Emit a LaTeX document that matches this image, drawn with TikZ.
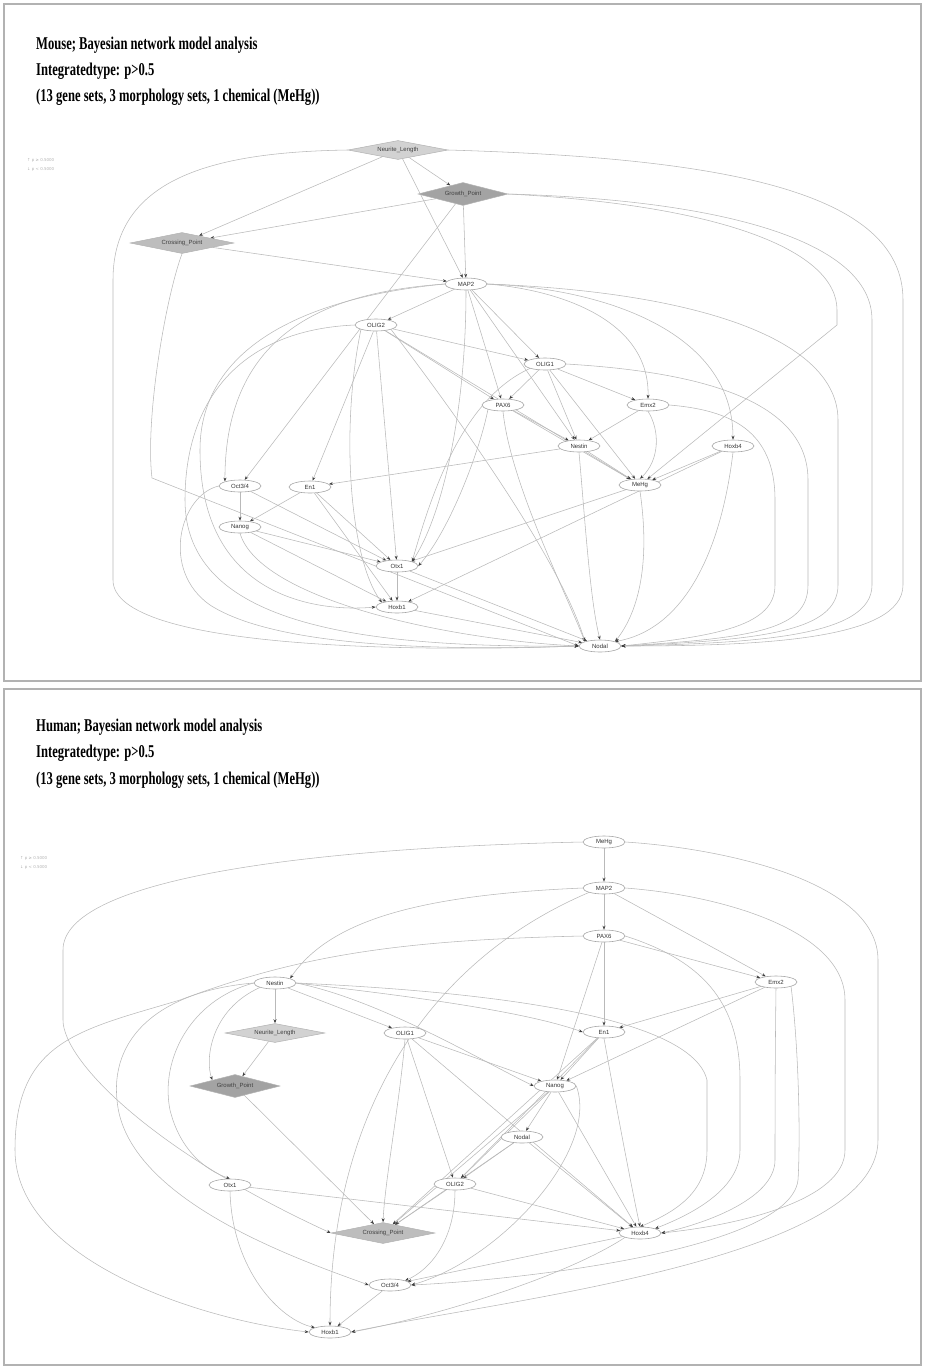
\documentclass[tikz,border=0pt]{standalone}
\usepackage{fontspec}
\setmainfont{Liberation Serif}
\newfontfamily\nodefont{Liberation Sans}
\newfontfamily\symfont{DejaVu Sans}
\usetikzlibrary{shapes.geometric,arrows.meta}
\pgfdeclarelayer{bg}
\pgfsetlayers{bg,main}
\tikzset{
  gn/.style={ellipse, draw=gray!70, fill=white, line width=0.6pt, inner sep=0.5pt,
    minimum width=42pt, minimum height=12pt, font=\nodefont\fontsize{6}{7}\selectfont, text=black!80},
  dia/.style={diamond, aspect=6, inner sep=0pt, draw=gray!60, line width=0.5pt, font=\nodefont\fontsize{6}{7}\selectfont, text=black!75},
  ld/.style={dia, fill=gray!35, minimum width=100pt, minimum height=19pt},
  dd/.style={dia, fill=gray!72, minimum width=90pt, minimum height=23pt},
  md/.style={dia, fill=gray!52, minimum width=104pt, minimum height=21pt},
  ed/.style={draw=gray!55, line width=0.55pt, -{Stealth[length=4pt,width=3pt,color=black!75]}},
  ttl/.style={anchor=west, inner sep=0pt, font=\fontsize{18}{21}\selectfont\bfseries},
  leg/.style={anchor=west, inner sep=0pt, text=gray!60, font=\symfont\fontsize{4}{5}\selectfont},
  frame/.style={draw=gray!60, line width=1.6pt}
}
\begin{document}
\begin{tikzpicture}[x=1pt,y=-1pt]
\useasboundingbox (0,0) rectangle (925,1366);
\draw[frame] (4,4) rectangle (921,681);
\draw[frame] (4,689) rectangle (921,1365);

% ---------- titles ----------
\node[ttl] (t1) at (36,45) {\scalebox{0.70}[1]{Mouse; Bayesian network model analysis}};
\node[ttl] (t2) at (36,71) {\scalebox{0.70}[1]{Integratedtype: p>0.5}};
\node[ttl] (t3) at (36,97) {\scalebox{0.70}[1]{(13 gene sets, 3 morphology sets, 1 chemical (MeHg))}};
\node[ttl] (h1) at (36,727) {\scalebox{0.70}[1]{Human; Bayesian network model analysis}};
\node[ttl] (h2) at (36,753) {\scalebox{0.70}[1]{Integratedtype: p>0.5}};
\node[ttl] (h3) at (36,780) {\scalebox{0.70}[1]{(13 gene sets, 3 morphology sets, 1 chemical (MeHg))}};
\node[leg] (tl1) at (27,160) {↑ p ≥ 0.5000};
\node[leg] (tl2) at (27,169) {↓ p < 0.5000};
\node[leg] (hl1) at (20,858) {↑ p ≥ 0.5000};
\node[leg] (hl2) at (20,867) {↓ p < 0.5000};

% ---------- top (mouse) nodes ----------
\node[ld] (tNL) at (398,150) {Neurite\_Length};
\node[dd] (tGP) at (463,194) {Growth\_Point};
\node[md] (tCP) at (182,243) {Crossing\_Point};
\node[gn] (tMAP2) at (466,284) {MAP2};
\node[gn] (tOLIG2) at (376,325) {OLIG2};
\node[gn] (tOLIG1) at (545,364) {OLIG1};
\node[gn] (tPAX6) at (503,405) {PAX6};
\node[gn] (tEmx2) at (648,405) {Emx2};
\node[gn] (tNestin) at (579,446) {Nestin};
\node[gn] (tHoxb4) at (733,446) {Hoxb4};
\node[gn] (tOct) at (240,486) {Oct3/4};
\node[gn] (tEn1) at (310,487) {En1};
\node[gn] (tMeHg) at (640,485) {MeHg};
\node[gn] (tNanog) at (240,527) {Nanog};
\node[gn] (tOtx1) at (397,566) {Otx1};
\node[gn] (tHoxb1) at (397,607) {Hoxb1};
\node[gn] (tNodal) at (600,646) {Nodal};

% ---------- bottom (human) nodes ----------
\node[gn] (bMeHg) at (604,842) {MeHg};
\node[gn] (bMAP2) at (604,888) {MAP2};
\node[gn] (bPAX6) at (604,936) {PAX6};
\node[gn] (bEmx2) at (776,982) {Emx2};
\node[gn] (bNestin) at (275,983) {Nestin};
\node[ld] (bNL) at (275,1033) {Neurite\_Length};
\node[gn] (bOLIG1) at (405,1033) {OLIG1};
\node[gn] (bEn1) at (604,1032) {En1};
\node[dd] (bGP) at (235,1086) {Growth\_Point};
\node[gn] (bNanog) at (555,1086) {Nanog};
\node[gn] (bNodal) at (522,1137) {Nodal};
\node[gn] (bOtx1) at (230,1185) {Otx1};
\node[gn] (bOLIG2) at (455,1184) {OLIG2};
\node[md] (bCP) at (383,1233) {Crossing\_Point};
\node[gn] (bHoxb4) at (640,1233) {Hoxb4};
\node[gn] (bOct) at (390,1285) {Oct3/4};
\node[gn] (bHoxb1) at (330,1332) {Hoxb1};

\begin{pgfonlayer}{bg}
% ---------- top edges ----------
\draw[ed] (tNL) -- (tGP);
\draw[ed] (tNL) -- (tCP);
\draw[ed] (tNL) -- (tMAP2);
\draw[ed] (tNL.east) .. controls (720,158) and (903,190) .. (903,300) -- (903,585) .. controls (903,640) and (760,646) .. (tNodal.east);
\draw[ed] (tNL.west) .. controls (220,152) and (113,175) .. (113,280) -- (113,580) .. controls (113,650) and (420,652) .. (tNodal.west);
\draw[ed] (tGP) -- (tCP);
\draw[ed] (tGP) -- (tMAP2);
\draw[ed] (tGP) -- (tOct);
\draw[ed] (tGP.east) .. controls (720,200) and (872,240) .. (872,320) -- (872,585) .. controls (872,636) and (760,643) .. (tNodal.east);
\draw[ed] (tGP.east) .. controls (720,205) and (837,250) .. (837,310) -- (837,325) -- (tMeHg);
\draw[ed] (tCP) -- (tMAP2);
\draw[ed] (tCP.south) .. controls (165,300) and (145,420) .. (152,478) -- (tNodal.west);
\draw[ed] (tMAP2) -- (tOLIG2);
\draw[ed] (tMAP2) -- (tOLIG1);
\draw[ed] (tMAP2) -- (tPAX6);
\draw[ed] (tMAP2) -- (tNestin);
\draw[ed] (tMAP2.south) .. controls (466,420) and (440,520) .. (tOtx1.north east);
\draw[ed] (tMAP2.east) .. controls (560,290) and (650,320) .. (tEmx2.north);
\draw[ed] (tMAP2.east) .. controls (600,288) and (733,330) .. (tHoxb4.north);
\draw[ed] (tMAP2.east) .. controls (700,292) and (838,340) .. (838,420) -- (838,585) .. controls (838,632) and (760,640) .. (tNodal.east);
\draw[ed] (tMAP2.west) .. controls (330,292) and (225,330) .. (tOct.north west);
\draw[ed] (tMAP2.west) .. controls (300,298) and (200,350) .. (200,450) .. controls (200,600) and (320,612) .. (tHoxb1.west);
\draw[ed] (tOLIG2) -- (tOLIG1);
\draw[ed] (tOLIG2) -- (tPAX6);
\draw[ed] (tOLIG2) -- (tOtx1);
\draw[ed] (tOLIG2.south west) .. controls (340,430) and (350,560) .. (tHoxb1.north west);
\draw[ed] (tOLIG2) -- (tEn1);
\draw[ed] (tOLIG2) -- (tMeHg);
\draw[ed] (tOLIG2.south east) .. controls (460,420) and (560,560) .. (tNodal.north west);
\draw[ed] (tOLIG2.west) .. controls (240,330) and (185,400) .. (185,500) .. controls (185,625) and (360,648) .. (tNodal.west);
\draw[ed] (tOLIG1) -- (tPAX6);
\draw[ed] (tOLIG1) -- (tNestin);
\draw[ed] (tOLIG1) -- (tEmx2);
\draw[ed] (tOLIG1) -- (tMeHg);
\draw[ed] (tOLIG1.east) .. controls (700,372) and (808,400) .. (808,480) -- (808,585) .. controls (808,628) and (760,638) .. (tNodal.east);
\draw[ed] (tOLIG1.south west) .. controls (460,400) and (430,500) .. (tOtx1.north east);
\draw[ed] (tPAX6) -- (tNestin);
\draw[ed] (tPAX6.south) .. controls (510,480) and (560,580) .. (tNodal.north west);
\draw[ed] (tPAX6.south west) .. controls (480,450) and (450,530) .. (tOtx1.east);
\draw[ed] (tPAX6) -- (tMeHg);
\draw[ed] (tEmx2) -- (tNestin);
\draw[ed] (tEmx2.south) .. controls (660,430) and (660,460) .. (tMeHg.north);
\draw[ed] (tEmx2.east) .. controls (730,410) and (775,430) .. (775,500) -- (775,585) .. controls (775,625) and (720,636) .. (tNodal.east);
\draw[ed] (tNestin) -- (tMeHg);
\draw[ed] (tNestin.south) .. controls (585,520) and (590,600) .. (tNodal.north);
\draw[ed] (tNestin) -- (tEn1);
\draw[ed] (tHoxb4) -- (tMeHg);
\draw[ed] (tHoxb4.south) .. controls (720,560) and (680,630) .. (tNodal.north east);
\draw[ed] (tHoxb4) -- (tHoxb1);
\draw[ed] (tMeHg.south) .. controls (650,560) and (640,610) .. (tNodal.north east);
\draw[ed] (tMeHg) -- (tOtx1);
\draw[ed] (tOct) -- (tNanog);
\draw[ed] (tOct) -- (tOtx1);
\draw[ed] (tOct.west) .. controls (180,495) and (160,570) .. (210,605) .. controls (280,650) and (460,650) .. (tNodal.west);
\draw[ed] (tEn1) -- (tNanog);
\draw[ed] (tEn1) -- (tOtx1);
\draw[ed] (tEn1) -- (tHoxb1);
\draw[ed] (tNanog) -- (tOtx1);
\draw[ed] (tNanog) -- (tHoxb1);
\draw[ed] (tNanog.south) .. controls (260,600) and (450,640) .. (tNodal.west);
\draw[ed] (tOtx1) -- (tHoxb1);
\draw[ed] (tOtx1) -- (tNodal);
\draw[ed] (tHoxb1) -- (tNodal);

% ---------- bottom edges ----------
\draw[ed] (bMeHg) -- (bMAP2);
\draw[ed] (bMeHg.west) .. controls (300,848) and (63,880) .. (63,950) -- (63,1020) .. controls (63,1060) and (150,1150) .. (bCP.west);
\draw[ed] (bMeHg.east) .. controls (720,848) and (878,880) .. (878,960) -- (878,1140) .. controls (878,1260) and (500,1300) .. (bHoxb1.east);
\draw[ed] (bMAP2) -- (bPAX6);
\draw[ed] (bMAP2) -- (bEmx2);
\draw[ed] (bMAP2.west) .. controls (420,895) and (330,920) .. (bNestin.north east);
\draw[ed] (bMAP2.south west) .. controls (430,960) and (330,1110) .. (bHoxb1.north);
\draw[ed] (bMAP2.east) .. controls (720,895) and (845,930) .. (845,1000) -- (845,1150) .. controls (845,1200) and (740,1225) .. (bHoxb4.east);
\draw[ed] (bPAX6) -- (bEn1);
\draw[ed] (bPAX6) -- (bEmx2);
\draw[ed] (bPAX6) -- (bNanog);
\draw[ed] (bPAX6.east) .. controls (700,960) and (740,1000) .. (740,1080) -- (740,1150) .. controls (740,1190) and (690,1215) .. (bHoxb4.north east);
\draw[ed] (bPAX6.west) .. controls (400,940) and (300,955) .. (180,1000) .. controls (80,1030) and (15,1040) .. (15,1150) .. controls (15,1260) and (200,1320) .. (bHoxb1.west);
\draw[ed] (bEmx2) -- (bEn1);
\draw[ed] (bEmx2) -- (bNanog);
\draw[ed] (bEmx2.south) .. controls (775,1060) and (775,1140) .. (775,1160) .. controls (775,1200) and (700,1225) .. (bHoxb4.east);
\draw[ed] (bEmx2.south east) .. controls (800,1060) and (800,1150) .. (798,1180) .. controls (790,1250) and (520,1280) .. (bOct.east);
\draw[ed] (bNestin) -- (bNL);
\draw[ed] (bNestin.south west) .. controls (210,1010) and (205,1060) .. (bGP.north west);
\draw[ed] (bNestin) -- (bOLIG1);
\draw[ed] (bNestin.east) .. controls (400,995) and (520,1010) .. (bEn1.west);
\draw[ed] (bNestin.east) .. controls (450,990) and (690,1010) .. (707,1080) -- (707,1150) .. controls (707,1190) and (680,1210) .. (bHoxb4.north);
\draw[ed] (bNestin.west) .. controls (190,1000) and (160,1060) .. (170,1110) .. controls (180,1150) and (205,1170) .. (bOtx1.north);
\draw[ed] (bNestin.west) .. controls (170,990) and (110,1030) .. (117,1100) .. controls (125,1200) and (300,1260) .. (bOct.west);
\draw[ed] (bNestin.east) .. controls (380,1000) and (480,1060) .. (bNanog.west);
\draw[ed] (bNL) -- (bGP);
\draw[ed] (bGP) -- (bCP);
\draw[ed] (bOLIG1) -- (bOLIG2);
\draw[ed] (bOLIG1.south) .. controls (400,1100) and (385,1180) .. (bCP.north);
\draw[ed] (bOLIG1) -- (bNanog);
\draw[ed] (bOLIG1) -- (bHoxb4);
\draw[ed] (bEn1) -- (bNanog);
\draw[ed] (bEn1.south) .. controls (615,1100) and (630,1180) .. (bHoxb4.north);
\draw[ed] (bEn1) -- (bOLIG2);
\draw[ed] (bEn1) -- (bCP);
\draw[ed] (bNanog) -- (bNodal);
\draw[ed] (bNanog) -- (bHoxb4);
\draw[ed] (bNanog) -- (bOLIG2);
\draw[ed] (bNanog) -- (bCP);
\draw[ed] (bNanog.east) .. controls (600,1150) and (500,1260) .. (bOct.east);
\draw[ed] (bNodal) -- (bOLIG2);
\draw[ed] (bNodal) -- (bCP);
\draw[ed] (bNodal) -- (bHoxb4);
\draw[ed] (bOtx1.south) .. controls (232,1270) and (280,1320) .. (bHoxb1.north west);
\draw[ed] (bOtx1) -- (bHoxb4);
\draw[ed] (bOLIG2) -- (bCP);
\draw[ed] (bOLIG2.south) .. controls (455,1240) and (430,1270) .. (bOct.north east);
\draw[ed] (bOLIG2) -- (bHoxb4);
\draw[ed] (bOct) -- (bHoxb1);
\draw[ed] (bHoxb4) -- (bOct);
\draw[ed] (bHoxb4.south west) .. controls (560,1280) and (420,1320) .. (bHoxb1.east);
\end{pgfonlayer}
\end{tikzpicture}
\end{document}
